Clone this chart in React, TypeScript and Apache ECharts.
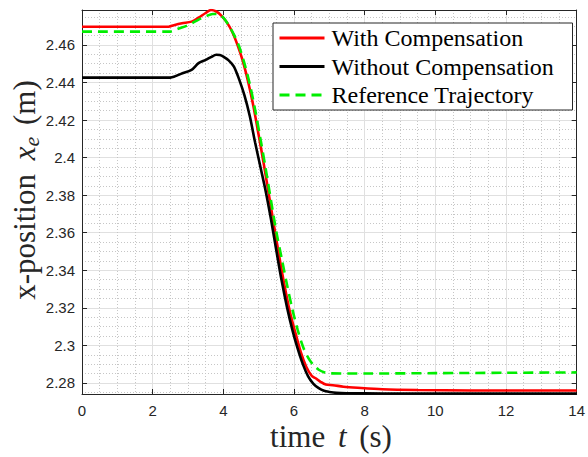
import { useEffect, useRef } from 'react';
import * as echarts from 'echarts';

// Reference trajectory (green dashed)
const timeRef = [0, 2.5, 2.7, 3.0, 3.3, 3.5, 3.7, 3.85, 4.0, 4.15, 4.3, 4.45, 4.6, 4.75, 4.9, 5.05, 5.2, 5.35, 5.5, 5.65, 5.8, 5.95, 6.1, 6.25, 6.4, 6.55, 6.7, 6.85, 7.0, 8, 10, 12, 14];
const valRef = [2.4671, 2.4671, 2.4685, 2.4705, 2.4735, 2.4752, 2.4765, 2.4765, 2.4745, 2.4705, 2.4655, 2.459, 2.45, 2.439, 2.4255, 2.41, 2.394, 2.377, 2.3605, 2.3465, 2.3325, 2.3195, 2.3085, 2.2995, 2.2935, 2.2895, 2.287, 2.2857, 2.2851, 2.285, 2.2852, 2.2854, 2.2856];

// With compensation (red)
const timeComp = [0, 2.45, 2.6, 2.83, 3.1, 3.3, 3.5, 3.65, 3.8, 3.95, 4.1, 4.25, 4.4, 4.55, 4.7, 4.85, 5.0, 5.15, 5.3, 5.45, 5.6, 5.75, 5.9, 6.05, 6.2, 6.35, 6.5, 6.6, 6.75, 6.9, 7.1, 7.4, 7.8, 8.5, 9.5, 11, 14];
const valComp = [2.4697, 2.4697, 2.4705, 2.4715, 2.4724, 2.4745, 2.477, 2.4786, 2.4778, 2.4755, 2.472, 2.467, 2.46, 2.4515, 2.4405, 2.4275, 2.412, 2.396, 2.379, 2.362, 2.3455, 2.33, 2.3165, 2.306, 2.296, 2.2885, 2.2838, 2.2826, 2.2806, 2.2791, 2.2788, 2.278, 2.2774, 2.2766, 2.2762, 2.276, 2.276];

// Without compensation (black)
const timeNoComp = [0, 2.5, 2.6, 2.8, 3.1, 3.3, 3.5, 3.65, 3.8, 3.9, 4.0, 4.15, 4.3, 4.45, 4.6, 4.75, 4.9, 5.05, 5.2, 5.35, 5.5, 5.65, 5.8, 5.95, 6.1, 6.25, 6.4, 6.55, 6.7, 6.85, 7.0, 7.2, 7.5, 8.5, 14];
const valNoComp = [2.4426, 2.4426, 2.443, 2.4446, 2.4467, 2.4503, 2.452, 2.4535, 2.4548, 2.4546, 2.4538, 2.4518, 2.4485, 2.4415, 2.433, 2.422, 2.408, 2.395, 2.382, 2.367, 2.3505, 2.3345, 2.3205, 2.3085, 2.2985, 2.29, 2.2835, 2.2795, 2.2772, 2.2758, 2.2752, 2.2747, 2.2745, 2.2744, 2.2744];

const seriesNames = ['With Compensation', 'Without Compensation', 'Reference Trajectory'];
const xMin = 0;
const xMax = 14;
const xStep = 2;
const yMin = 2.2741;
const yMax = 2.4786;

const axisColor = '#262626';
const tickFont = 'Liberation Sans, Arial, Helvetica, sans-serif';
const serif = 'Liberation Serif, Times New Roman, serif';

function pairs(t: number[], v: number[]) {
  return t.map((x, i) => [x, v[i]]);
}

function yFmt(v: number) {
  return String(parseFloat(v.toFixed(2)));
}

export default function App() {
  const ref = useRef<HTMLDivElement>(null);
  useEffect(() => {
    const chart = echarts.init(ref.current!, null, { renderer: 'svg' });
    const baseLine = { show: true, onZero: false, lineStyle: { color: axisColor, width: 1 } };
    const baseTick = { show: true, inside: true, length: 5, lineStyle: { color: axisColor, width: 1 } };
    chart.setOption({
      animation: false,
      backgroundColor: '#ffffff',
      grid: { left: 82, right: 7, top: 10, bottom: 63, containLabel: false },
      xAxis: [
        {
          type: 'value', min: xMin, max: xMax, interval: xStep, position: 'bottom',
          axisLine: baseLine, axisTick: baseTick,
          axisLabel: { color: axisColor, fontSize: 15, fontFamily: tickFont, margin: 9 },
          splitLine: { show: true, lineStyle: { color: '#e0e0e0', width: 1 } },
          minorTick: { show: false, splitNumber: 4 },
          minorSplitLine: { show: true, lineStyle: { color: '#c6c6c6', width: 1, type: [1, 2] } },
        },
        {
          type: 'value', min: xMin, max: xMax, interval: xStep, position: 'top',
          axisLine: baseLine, axisTick: baseTick, axisLabel: { show: false }, splitLine: { show: false },
        },
      ],
      yAxis: [
        {
          type: 'value', min: yMin, max: yMax, splitNumber: 10, position: 'left',
          axisLine: baseLine, axisTick: baseTick,
          axisLabel: { color: axisColor, fontSize: 15, fontFamily: tickFont, margin: 7, showMinLabel: false, showMaxLabel: false, formatter: yFmt },
          splitLine: { show: true, lineStyle: { color: '#e0e0e0', width: 1 } },
          minorTick: { show: false, splitNumber: 4 },
          minorSplitLine: { show: true, lineStyle: { color: '#c6c6c6', width: 1, type: [1, 2] } },
        },
        {
          type: 'value', min: yMin, max: yMax, splitNumber: 10, position: 'right',
          axisLine: baseLine, axisTick: baseTick, axisLabel: { show: false }, splitLine: { show: false },
        },
      ],
      legend: {
        orient: 'vertical', left: 273, top: 23,
        data: seriesNames,
        itemWidth: 45, itemHeight: 14, itemGap: 4.5,
        padding: [3, 6, 3, 5],
        borderColor: axisColor, borderWidth: 1, borderRadius: 0, backgroundColor: '#ffffff',
        itemStyle: { opacity: 0, borderWidth: 0 },
        lineStyle: { width: 3 },
        textStyle: { fontFamily: serif, fontSize: 24, color: '#000', lineHeight: 24, width: 235, padding: [0, 0, 0, 2] },
      },
      series: [
        {
          name: seriesNames[0], type: 'line', data: pairs(timeComp, valComp), symbol: 'none', smooth: 0.3,
          lineStyle: { color: '#ff0000', width: 2.6 }, itemStyle: { color: '#ff0000' }, clip: true,
        },
        {
          name: seriesNames[1], type: 'line', data: pairs(timeNoComp, valNoComp), symbol: 'none', smooth: 0.3,
          lineStyle: { color: '#000000', width: 2.6 }, itemStyle: { color: '#000000' }, clip: true,
        },
        {
          name: seriesNames[2], type: 'line', data: pairs(timeRef, valRef), symbol: 'none', smooth: 0.3,
          lineStyle: { color: '#00ee00', width: 2.6, type: [10, 6] }, itemStyle: { color: '#00ee00' }, clip: true,
        },
      ],
      graphic: [
        {
          type: 'text', x: 331, y: 436, z: 10,
          style: {
            text: '{a|time }{i|t}{a| (s)}',
            fill: '#262626',
            align: 'center', verticalAlign: 'middle', textAlign: 'center', textVerticalAlign: 'middle',
            rich: {
              a: { fontFamily: serif, fontSize: 31, lineHeight: 36, fill: '#262626' },
              i: { fontFamily: serif, fontSize: 31, lineHeight: 36, fontStyle: 'italic', fill: '#262626', padding: [0, 5, 0, 5] },
            },
          },
        },
        {
          type: 'text', x: 24, y: 190, rotation: Math.PI / 2, z: 10,
          style: {
            text: '{a|x-position }{i|x}{s|e}{a| (m)}',
            fill: '#262626',
            align: 'center', verticalAlign: 'middle', textAlign: 'center', textVerticalAlign: 'middle',
            rich: {
              a: { fontFamily: serif, fontSize: 31, lineHeight: 36, fill: '#262626' },
              i: { fontFamily: serif, fontSize: 31, lineHeight: 36, fontStyle: 'italic', fill: '#262626', padding: [0, 0, 0, 6] },
              s: { fontFamily: serif, fontSize: 22, lineHeight: 14, fontStyle: 'italic', fill: '#262626', verticalAlign: 'bottom', padding: [0, 4, 0, 0] },
            },
          },
        },
      ],
    });
    return () => chart.dispose();
  }, []);
  return <div ref={ref} style={{ position: 'fixed', left: 0, top: 0, width: 588, height: 457, background: '#fff' }} />;
}
